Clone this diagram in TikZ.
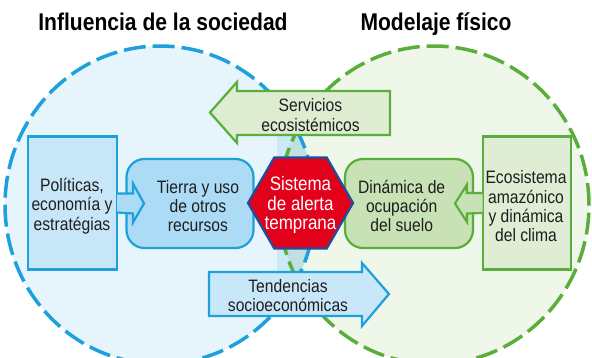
\documentclass[tikz,border=0pt]{standalone}
\usepackage{fontspec}
\setmainfont{Liberation Sans}
\newfontfamily\condfont[FakeStretch=0.87]{Liberation Sans}
\usetikzlibrary{shapes.geometric}
\definecolor{cbluefill}{HTML}{E6F4FC}
\definecolor{cgreenfill}{HTML}{EFF6EA}
\definecolor{lensfill}{HTML}{C2E0E2}
\definecolor{stripfill}{HTML}{CCE9F8}
\definecolor{lblue}{HTML}{1EA0DC}
\definecolor{lgreen}{HTML}{5AAE3B}
\definecolor{polfill}{HTML}{C7E6F8}
\definecolor{tierrafill}{HTML}{ACDCF5}
\definecolor{tendfill}{HTML}{C8E7F8}
\definecolor{servfill}{HTML}{DEEDD2}
\definecolor{dinfill}{HTML}{C8E1B5}
\definecolor{ecofill}{HTML}{DEEDD3}
\definecolor{hexred}{HTML}{E2001A}
\definecolor{hexborder}{HTML}{1E4F9C}
\definecolor{textc}{HTML}{1E1E1E}
\begin{document}
\begin{tikzpicture}[x=1pt,y=-1pt,
  bluecircle/.style={draw=lblue, line width=3.5pt, dash pattern=on 22pt off 7pt},
  greencircle/.style={draw=lgreen, line width=3.5pt, dash pattern=on 22pt off 7pt},
  bluebox/.style={draw=lblue, line width=2.2pt, line join=miter},
  greenbox/.style={draw=lgreen, line width=2.2pt, line join=miter},
  shapebox/.style={inner sep=0pt, outer sep=0pt},
  bodytxt/.style={font=\condfont\fontsize{18}{19.4}\selectfont, align=center, text=textc, inner sep=0pt},
  hextxt/.style={font=\condfont\fontsize{19.5}{19.6}\selectfont, align=center, text=white, inner sep=0pt},
  titletxt/.style={font=\condfont\bfseries\fontsize{24.2}{28}\selectfont, text=black, inner sep=0pt, anchor=base},
  hexa/.style={regular polygon, regular polygon sides=6, minimum size=105pt, inner sep=0pt,
    draw=hexborder, line width=2.2pt, fill=hexred}
]
\useasboundingbox (0,0) rectangle (592,358);
\clip (0,0) rectangle (592,358);

% circles fill
\fill[cbluefill] (160,205) ellipse [x radius=155pt, y radius=159pt];
\fill[cgreenfill] (434,205) ellipse [x radius=155pt, y radius=159pt];
\begin{scope}
  \clip (160,205) ellipse [x radius=155pt, y radius=159pt];
  \fill[stripfill] (277,135) rectangle (300,272);
  \clip (434,205) ellipse [x radius=155pt, y radius=159pt];
  \fill[lensfill] (200,100) rectangle (400,300);
\end{scope}
\draw[bluecircle] (160,205) ellipse [x radius=155pt, y radius=159pt];
\draw[greencircle] (434,205) ellipse [x radius=155pt, y radius=159pt];

% titles
\node[titletxt] (tleft) at (163,30.7) {Influencia de la sociedad};
\node[titletxt] (tright) at (436,30.7) {Modelaje físico};

% big arrows
\filldraw[greenbox, fill=servfill] (390,91) -- (237,91) -- (237,82) -- (210,112.5) -- (237,143) -- (237,135) -- (390,135) -- cycle;
\node[bodytxt] (serv) at (310.5,115) {Servicios\\ecosistémicos};
\filldraw[bluebox, fill=tendfill] (209,272) -- (362,272) -- (362,263) -- (389,294) -- (362,326) -- (362,316) -- (209,316) -- cycle;
\node[bodytxt] (tend) at (288,295.5) {Tendencias\\socioeconómicas};

% left side
\node[shapebox, bluebox, fill=polfill, minimum width=89pt, minimum height=133pt] (pol) at (72.5,203) {};
\node[shapebox, bluebox, fill=tierrafill, rounded corners=18pt, minimum width=127pt, minimum height=89pt] (tierra) at (190,203.5) {};
\filldraw[bluebox, fill=tierrafill] ([yshift=9.5pt]pol.east) -- ++(16,0) -- ++(0,-10) -- (tierra.west -| 144,203) -- ++(-11,19) -- ++(0,-9) -- ([yshift=-9.5pt]pol.east);
\node[bodytxt] (poltxt) at (72,206) {Políticas,\\economía y\\estratégias};
\node[bodytxt] (tierratxt) at (198,206) {Tierra y uso\\de otros\\recursos};

% right side
\node[shapebox, greenbox, fill=ecofill, minimum width=88pt, minimum height=133pt] (eco) at (526.7,203) {};
\node[shapebox, greenbox, fill=dinfill, rounded corners=18pt, minimum width=128pt, minimum height=89pt] (din) at (409,203.5) {};
\filldraw[greenbox, fill=dinfill] ([yshift=10pt]eco.west) -- ++(-16,0) -- ++(0,-8) -- (din.east -| 455,203) -- ++(12,18.5) -- ++(0,-8.5) -- ([yshift=-10pt]eco.west);
\node[bodytxt] (ecotxt) at (526,206.3) {Ecosistema\\amazónico\\y dinámica\\del clima};
\node[bodytxt] (dintxt) at (401.7,206) {Dinámica de\\ocupación\\del suelo};

% center hexagon
\node[hexa] (hex) at (300.5,203) {};
\node[hextxt] (hext) at (300.5,205) {Sistema\\de alerta\\temprana};
\end{tikzpicture}
\end{document}
